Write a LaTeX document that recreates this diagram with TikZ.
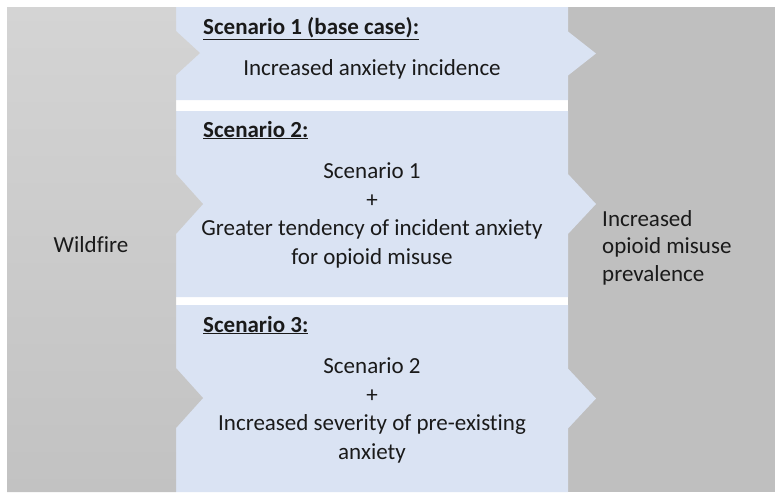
\documentclass[tikz,border=0pt]{standalone}
\usepackage{fontspec}
\setmainfont{Carlito}[Ligatures=CommonOff]
\usetikzlibrary{positioning}
\definecolor{scenblue}{HTML}{DAE3F3}
\definecolor{firetop}{HTML}{D4D4D4}
\definecolor{firebot}{HTML}{C2C2C2}
\definecolor{outgray}{HTML}{BFBFBF}
\definecolor{inktext}{HTML}{1A1A1A}

\begin{document}
\begin{tikzpicture}[x=1pt, y=-1pt,
  every node/.style={font=\fontsize{23}{28.5}\selectfont, inner sep=0pt, text=inktext},
  head/.style={anchor=base west, font=\fontsize{23}{28}\selectfont\bfseries}]
  \useasboundingbox (0,0) rectangle (780,499);
  % outcome panel
  \fill[outgray] (568,7) rectangle (775,492);
  % scenario boxes, each pointing right into the outcome
  \foreach \t/\b/\h in {7/100/22, 111/297/30, 305/492/30} {
    \fill[scenblue] (176,\t) -- (568,\t) -- (568,{(\t+\b)/2-\h}) -- (596,{(\t+\b)/2})
      -- (568,{(\t+\b)/2+\h}) -- (568,\b) -- (176,\b) -- cycle;
  }
  % exposure panel, pointing into each scenario
  \shade[top color=firetop, bottom color=firebot]
    (7,7) -- (176,7) -- (176,31) -- (200,53) -- (176,75)
    -- (176,174) -- (203,204) -- (176,234)
    -- (176,368) -- (203,398) -- (176,428)
    -- (176,492) -- (7,492) -- cycle;
  \node (fire) at (91,245) {Wildfire};
  \node[anchor=west, align=left, font=\fontsize{23}{27.5}\selectfont] (prev) at (602,247.5) {Increased\\opioid misuse\\prevalence};
  \node[head] (h1) at (203,34) {\underline{Scenario 1 (base case):}};
  \node (s1) at (372,69.5) {Increased anxiety incidence};
  \node[head] (h2) at (203,137) {\underline{Scenario 2:}};
  \node[align=center] (s2) at (372,215.5) {Scenario 1\\+\\Greater tendency of incident anxiety\\for opioid misuse};
  \node[head] (h3) at (203,332) {\underline{Scenario 3:}};
  \node[align=center] (s3) at (372,410.5) {Scenario 2\\+\\Increased severity of pre-existing\\anxiety};
\end{tikzpicture}
\end{document}
